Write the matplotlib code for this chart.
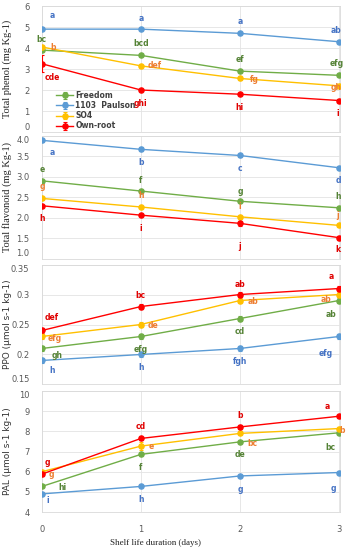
import matplotlib
matplotlib.use("Agg")
import matplotlib.pyplot as plt
import numpy as np

days = [0, 1, 2, 3]
series = ["Freedom", "1103  Paulson", "SO4", "Own-root"]
line_colors = ["#70AD47", "#5B9BD5", "#FFC000", "#FF0000"]
label_colors = ["#548235", "#4472C4", "#ED7D31", "#E00000"]

# Total phenol
phenol_freedom = [3.9, 3.65, 2.9, 2.7]
phenol_paulson = [4.9, 4.9, 4.7, 4.3]
phenol_so4 = [4.05, 3.15, 2.55, 2.2]
phenol_own = [3.25, 2.0, 1.8, 1.5]
phenol_err = [[0.05, 0.05, 0.05, 0.05], [0.03, 0.03, 0.03, 0.03],
              [0.05, 0.05, 0.05, 0.05], [0.4, 0.05, 0.05, 0.05]]
phenol_letters = [["bc", "bcd", "ef", "efg"], ["a", "a", "a", "ab"],
                  ["b", "def", "fg", "gh"], ["cde", "ghi", "hi", "i"]]

# Total flavonoid
flav_freedom = [2.9, 2.65, 2.4, 2.24]
flav_paulson = [3.89, 3.67, 3.52, 3.22]
flav_so4 = [2.47, 2.26, 2.02, 1.81]
flav_own = [2.29, 2.06, 1.86, 1.51]
flav_err = [[0.03] * 4, [0.03, 0.05, 0.03, 0.03], [0.03] * 4, [0.03, 0.03, 0.06, 0.05]]
flav_letters = [["e", "f", "g", "h"], ["a", "b", "c", "d"],
                ["g", "h", "i", "j"], ["h", "i", "j", "k"]]

# PPO
ppo_freedom = [0.21, 0.23, 0.26, 0.29]
ppo_paulson = [0.19, 0.20, 0.21, 0.23]
ppo_so4 = [0.23, 0.25, 0.29, 0.30]
ppo_own = [0.24, 0.28, 0.30, 0.31]
ppo_err = [[0.004] * 4, [0.004] * 4, [0.004] * 4, [0.004] * 4]
ppo_letters = [["gh", "efg", "cd", "ab"], ["h", "h", "fgh", "efg"],
               ["efg", "de", "ab", "ab"], ["def", "bc", "ab", "a"]]

# PAL
pal_freedom = [5.27, 6.86, 7.48, 7.93]
pal_paulson = [4.9, 5.27, 5.79, 5.96]
pal_so4 = [6.0, 7.27, 7.9, 8.14]
pal_own = [5.88, 7.65, 8.22, 8.75]
pal_err = [[0.05] * 4, [0.05] * 4, [0.08, 0.18, 0.1, 0.08], [0.1, 0.08, 0.08, 0.08]]
pal_letters = [["hi", "f", "de", "bc"], ["i", "h", "g", "g"],
               ["g", "e", "bc", "b"], ["g", "cd", "b", "a"]]

# letter positions (x, y) in data units
phenol_pos = [[(0.0, 4.43), (1.0, 4.22), (2.0, 3.43), (2.98, 3.27)],
              [(0.1, 5.54), (1.0, 5.41), (2.0, 5.25), (2.97, 4.83)],
              [(0.11, 4.01), (1.14, 3.16), (2.15, 2.48), (2.97, 2.13)],
              [(0.11, 2.6), (1.0, 1.37), (2.0, 1.16), (2.99, 0.89)]]
flav_pos = [[(0.0, 3.18), (1.0, 2.91), (2.0, 2.65), (2.99, 2.52)],
            [(0.1, 3.6), (1.0, 3.35), (2.0, 3.2), (2.99, 2.9)],
            [(0.0, 2.75), (1.0, 2.53), (2.0, 2.28), (2.99, 2.04)],
            [(0.0, 1.98), (1.0, 1.74), (2.0, 1.29), (2.99, 1.21)]]
ppo_pos = [[(0.15, 0.198), (1.0, 0.2075), (2.0, 0.238), (2.92, 0.267)],
           [(0.1, 0.174), (1.0, 0.179), (2.0, 0.188), (2.87, 0.202)],
           [(0.13, 0.227), (1.12, 0.248), (2.13, 0.289), (2.87, 0.292)],
           [(0.1, 0.262), (1.0, 0.298), (2.0, 0.3175), (2.92, 0.330)]]
pal_pos = [[(0.21, 5.21), (1.0, 6.22), (2.0, 6.86), (2.91, 7.21)],
           [(0.06, 4.56), (1.0, 4.64), (2.0, 5.1), (2.94, 5.18)],
           [(0.1, 5.84), (1.1, 7.27), (2.13, 7.40), (3.03, 8.06)],
           [(0.06, 6.45), (1.0, 8.22), (2.0, 8.77), (2.88, 9.21)]]

panels = [
    dict(data=[phenol_freedom, phenol_paulson, phenol_so4, phenol_own], err=phenol_err,
         letters=phenol_letters, pos=phenol_pos, ylim=(0, 6), ticks=[0, 1, 2, 3, 4, 5, 6],
         fmt="{:g}", ylabel="Total phenol (mg Kg-1)", serif=True,
         rect=(0.12, 0.760, 0.854, 0.229)),
    dict(data=[flav_freedom, flav_paulson, flav_so4, flav_own], err=flav_err,
         letters=flav_letters, pos=flav_pos, ylim=(1.0, 4.0),
         ticks=[1.0, 1.5, 2.0, 2.5, 3.0, 3.5, 4.0], fmt="{:.1f}",
         ylabel="Total flavonoid (mg Kg-1)", serif=True,
         rect=(0.12, 0.530, 0.854, 0.223)),
    dict(data=[ppo_freedom, ppo_paulson, ppo_so4, ppo_own], err=ppo_err,
         letters=ppo_letters, pos=ppo_pos, ylim=(0.15, 0.35),
         ticks=[0.15, 0.2, 0.25, 0.3, 0.35], fmt="{:g}",
         ylabel="PPO (\u00b5mol s-1 kg-1)", serif=False,
         rect=(0.12, 0.301, 0.854, 0.218)),
    dict(data=[pal_freedom, pal_paulson, pal_so4, pal_own], err=pal_err,
         letters=pal_letters, pos=pal_pos, ylim=(4, 10),
         ticks=[4, 5, 6, 7, 8, 9, 10], fmt="{:g}",
         ylabel="PAL (\u00b5mol s-1 kg-1)", serif=False,
         rect=(0.12, 0.069, 0.854, 0.220)),
]

fig = plt.figure(figsize=(3.49, 5.5), dpi=100)
axes = []
for i, p in enumerate(panels):
    ax = fig.add_axes(p["rect"])
    axes.append(ax)
    for s in range(4):
        ax.errorbar(days, p["data"][s], yerr=p["err"][s], color=line_colors[s],
                    marker="o", markersize=3.7, linewidth=1.0, elinewidth=0.8,
                    ecolor=line_colors[s], capsize=1.5, capthick=0.8,
                    label=series[s], zorder=3)
        for j in range(4):
            x, y = p["pos"][s][j]
            ax.text(x, y, p["letters"][s][j], color=label_colors[s], fontsize=5.5,
                    fontweight="bold", ha="center", va="center", zorder=4)
    ax.set_xlim(0, 3.01)
    ax.set_ylim(*p["ylim"])
    ax.set_yticks(p["ticks"])
    ax.set_yticklabels([p["fmt"].format(t) for t in p["ticks"]])
    ax.set_xticks(days)
    ax.grid(True, color="#E3E3E3", linewidth=0.6)
    ax.set_axisbelow(True)
    for sp in ax.spines.values():
        sp.set_color("#D9D9D9")
        sp.set_linewidth(0.6)
    ax.tick_params(length=0, labelsize=6, labelcolor="#595959", pad=9)
    labels = ax.get_yticklabels()
    if i < 3:
        ax.tick_params(labelbottom=False)
        labels[0].set_va("bottom")
    if i > 0:
        labels[-1].set_va("top")
    if p["serif"]:
        ax.set_ylabel(p["ylabel"], fontsize=7.5, family="Liberation Serif", color="#222222")
    else:
        ax.set_ylabel(p["ylabel"], fontsize=6.5, family="DejaVu Sans", color="#333333")
    ax.yaxis.set_label_coords(-0.1, 0.5)

leg = axes[0].legend(loc="lower left", bbox_to_anchor=(0.03, -0.03), frameon=False,
                     fontsize=5.5, handlelength=2.2, labelspacing=0.15,
                     borderpad=0.2, handletextpad=0.3)
for t in leg.get_texts():
    t.set_color("#404040")
    t.set_fontweight("bold")

fig.text(156 / 349, 1 - 543 / 550, "Shelf life duration (days)", ha="center",
         va="center", fontsize=6.5, family="Liberation Serif", color="#222222")

fig.savefig("out.png", dpi=100)
